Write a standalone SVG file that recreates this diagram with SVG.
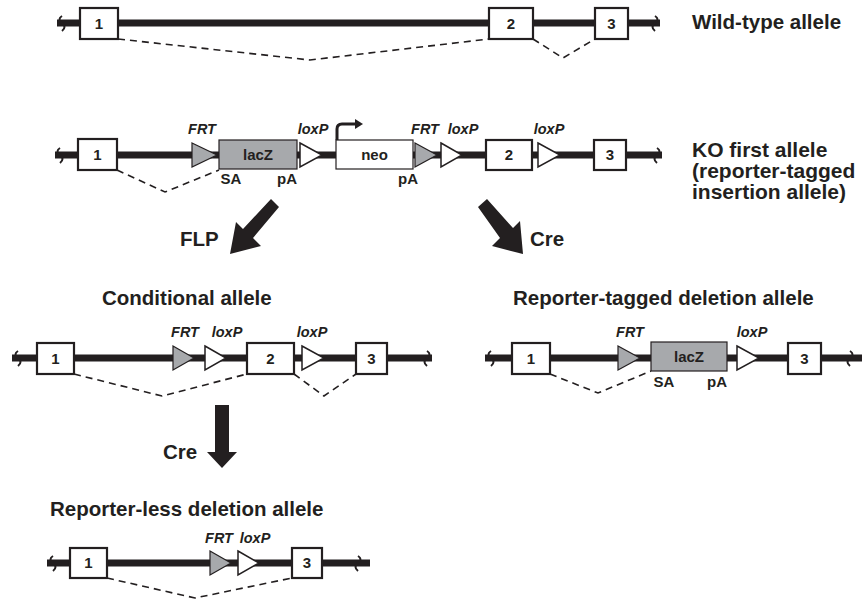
<svg xmlns="http://www.w3.org/2000/svg" width="862" height="604" viewBox="0 0 862 604">
<style>
  .dna{stroke:#231f20;stroke-width:7;fill:none}
  .brk{stroke:#231f20;stroke-width:2;fill:none}
  .exon{fill:#fff;stroke:#231f20;stroke-width:2.2}
  .cass{fill:#a7a9ac;stroke:#231f20;stroke-width:1.2}
  .neo{fill:#fff;stroke:#231f20;stroke-width:1.2}
  .frt{fill:#a7a9ac;stroke:#231f20;stroke-width:1.2}
  .lox{fill:#fff;stroke:#231f20;stroke-width:1.5}
  .spl{stroke:#231f20;stroke-width:1.6;stroke-dasharray:7,5;fill:none}
  .num{font-family:"Liberation Sans",Arial,sans-serif;font-weight:bold;font-size:15px;fill:#231f20;text-anchor:middle}
  .site{font-family:"Liberation Sans",Arial,sans-serif;font-weight:bold;font-style:italic;font-size:14.5px;fill:#231f20;text-anchor:middle}
  .small{font-family:"Liberation Sans",Arial,sans-serif;font-weight:bold;font-size:15px;fill:#231f20;text-anchor:middle}
  .title{font-family:"Liberation Sans",Arial,sans-serif;font-weight:bold;font-size:20.5px;fill:#231f20}
  .ko{font-family:"Liberation Sans",Arial,sans-serif;font-weight:bold;font-size:21px;fill:#231f20}
  .arrow{fill:#231f20}
</style>

<!-- Row 1: Wild-type allele -->
<g id="wildtype">
  <line class="dna" x1="57" y1="23" x2="660" y2="23"/>
  <path class="brk" d="M62 16 q-5 3 0 7 q5 4 0 8"/>
  <path class="brk" d="M655 16 q5 3 0 7 q-5 4 0 8"/>
  <path class="spl" d="M118 39 L310 60 L489 39"/>
  <path class="spl" d="M533 39 L563 58 L595 39"/>
  <rect class="exon" x="80" y="8" width="38" height="31"/>
  <text class="num" x="99" y="29">1</text>
  <rect class="exon" x="489" y="8" width="44" height="31"/>
  <text class="num" x="511" y="29">2</text>
  <rect class="exon" x="595" y="8" width="33" height="31"/>
  <text class="num" x="611.5" y="29">3</text>
  <text class="title" x="692" y="29">Wild-type allele</text>
</g>

<!-- Row 2: KO first allele -->
<g id="kofirst">
  <line class="dna" x1="55" y1="155" x2="662" y2="155"/>
  <path class="brk" d="M60 148 q-5 3 0 7 q5 4 0 8"/>
  <path class="brk" d="M657 148 q5 3 0 7 q-5 4 0 8"/>
  <path class="spl" d="M117 170 L165 192 L219 170"/>
  <rect class="exon" x="78" y="139" width="39" height="31"/>
  <text class="num" x="97.5" y="160">1</text>
  <polygon class="frt" points="192,143 217,155 192,167"/>
  <rect class="cass" x="219" y="140" width="78" height="29"/>
  <text class="small" x="258" y="160">lacZ</text>
  <polygon class="lox" points="300,143 322,155 300,167"/>
  <rect class="neo" x="336" y="140" width="77" height="29"/>
  <text class="small" x="374.5" y="160">neo</text>
  <path d="M337 140 V129 Q337 124 342 124 H356" stroke="#231f20" stroke-width="3" fill="none"/>
  <polygon class="arrow" points="355,119 363,124 355,129"/>
  <polygon class="frt" points="415,143 437,155 415,167"/>
  <polygon class="lox" points="441,143 462,155 441,167"/>
  <rect class="exon" x="486" y="140" width="46" height="30"/>
  <text class="num" x="509" y="160">2</text>
  <polygon class="lox" points="538,143 560,155 538,167"/>
  <rect class="exon" x="594" y="140" width="32" height="30"/>
  <text class="num" x="610" y="160">3</text>
  <text class="site" x="202" y="134">FRT</text>
  <text class="site" x="313" y="134">loxP</text>
  <text class="site" x="425" y="134">FRT</text>
  <text class="site" x="463" y="134">loxP</text>
  <text class="site" x="549" y="134">loxP</text>
  <text class="small" x="231" y="184">SA</text>
  <text class="small" x="287" y="184">pA</text>
  <text class="small" x="408" y="184">pA</text>
  <text class="ko" x="692" y="157">KO first allele</text>
  <text class="ko" x="692" y="178">(reporter-tagged</text>
  <text class="ko" x="692" y="199">insertion allele)</text>
</g>

<!-- Recombination arrows -->
<g id="connectors">
  <g id="flp">
    <polygon class="arrow" points="279,207 271,199 243,229 236,222 230,254 261,246 253,238"/>
    <text class="title" x="180" y="246">FLP</text>
  </g>
  <g id="cre1">
    <polygon class="arrow" points="478,207 487,199 513,228 520,221 523,254 492,246 500,238"/>
    <text class="title" x="530" y="246">Cre</text>
  </g>
  <g id="cre2">
    <polygon class="arrow" points="215,405 229,405 229,452 237,452 222,468 207,452 215,452"/>
    <text class="title" x="163" y="459">Cre</text>
  </g>
</g>

<!-- Row 3 left: Conditional allele -->
<g id="conditional">
  <text class="title" x="102" y="305">Conditional allele</text>
  <line class="dna" x1="12" y1="358" x2="432" y2="358"/>
  <path class="brk" d="M18 351 q-5 3 0 7 q5 4 0 8"/>
  <path class="brk" d="M427 351 q5 3 0 7 q-5 4 0 8"/>
  <path class="spl" d="M74 374 L162 396 L247 374"/>
  <path class="spl" d="M294 374 L324 396 L356 374"/>
  <rect class="exon" x="37" y="343" width="37" height="31"/>
  <text class="num" x="55.5" y="364">1</text>
  <polygon class="frt" points="173,346 194,358 173,370"/>
  <polygon class="lox" points="205,346 226,358 205,370"/>
  <rect class="exon" x="247" y="343" width="47" height="31"/>
  <text class="num" x="270.5" y="364">2</text>
  <polygon class="lox" points="302,346 324,358 302,370"/>
  <rect class="exon" x="356" y="343" width="31" height="31"/>
  <text class="num" x="371.5" y="364">3</text>
  <text class="site" x="185" y="337">FRT</text>
  <text class="site" x="227" y="337">loxP</text>
  <text class="site" x="312" y="337">loxP</text>
</g>

<!-- Row 3 right: Reporter-tagged deletion allele -->
<g id="reporterdeletion">
  <text class="title" x="513" y="305">Reporter-tagged deletion allele</text>
  <line class="dna" x1="485" y1="358" x2="862" y2="358"/>
  <path class="brk" d="M491 351 q-5 3 0 7 q5 4 0 8"/>
  <path class="brk" d="M850 351 q5 3 0 7 q-5 4 0 8"/>
  <path class="spl" d="M550 374 L598 393 L651 371"/>
  <rect class="exon" x="512" y="343" width="38" height="31"/>
  <text class="num" x="531" y="364">1</text>
  <polygon class="frt" points="618,346 640,358 618,370"/>
  <rect class="cass" x="651" y="342" width="76" height="29"/>
  <text class="small" x="689" y="362">lacZ</text>
  <polygon class="lox" points="737,346 759,358 737,370"/>
  <rect class="exon" x="788" y="343" width="33" height="31"/>
  <text class="num" x="804.5" y="364">3</text>
  <text class="site" x="630" y="337">FRT</text>
  <text class="site" x="752" y="337">loxP</text>
  <text class="small" x="664" y="387">SA</text>
  <text class="small" x="717" y="387">pA</text>
</g>

<!-- Row 4: Reporter-less deletion allele -->
<g id="reporterless">
  <text class="title" x="50" y="516">Reporter-less deletion allele</text>
  <line class="dna" x1="47" y1="563" x2="370" y2="563"/>
  <path class="brk" d="M53 556 q-5 3 0 7 q5 4 0 8"/>
  <path class="brk" d="M358 556 q5 3 0 7 q-5 4 0 8"/>
  <path class="spl" d="M107 578 L195 598 L292 578"/>
  <rect class="exon" x="70" y="548" width="37" height="30"/>
  <text class="num" x="88.5" y="568">1</text>
  <polygon class="frt" points="210,551 231,563 210,575"/>
  <polygon class="lox" points="238,551 259,563 238,575"/>
  <rect class="exon" x="292" y="548" width="30" height="30"/>
  <text class="num" x="307" y="568">3</text>
  <text class="site" x="219" y="543">FRT</text>
  <text class="site" x="255" y="543">loxP</text>
</g>
</svg>
